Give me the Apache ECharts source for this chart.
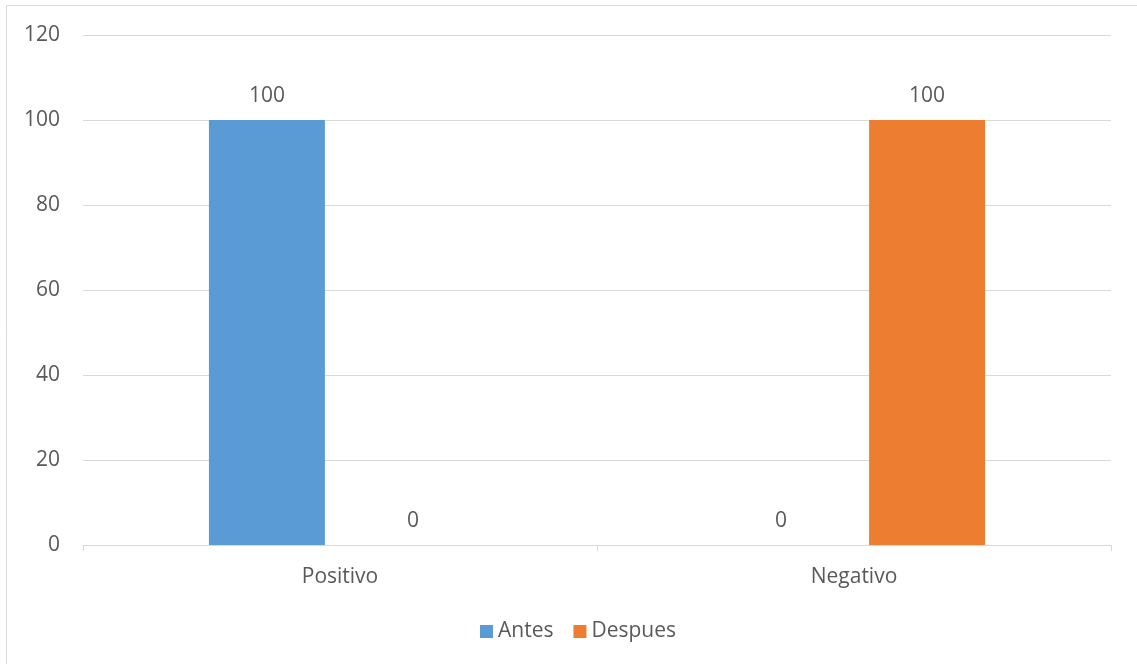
<!DOCTYPE html>
<html>
<head>
<meta charset="utf-8">
<script src="https://cdn.jsdelivr.net/npm/echarts@6/dist/echarts.min.js"></script>
<style>
  html, body { margin: 0; padding: 0; background: #fff; }
  #chart { width: 1137px; height: 664px; }
</style>
</head>
<body>
<div id="chart"></div>
<script>
// Categories and series values
const categories = ['Positivo', 'Negativo'];
const antes = [100, 0];
const despues = [0, 100];
const seriesNames = ['Antes', 'Despues'];

const textColor = '#595959';
const fontFamily = '"Open Sans", Lato, sans-serif';
const fontSize = 21;

const chart = echarts.init(document.getElementById('chart'));

const labelStyle = {
  show: true,
  position: 'top',
  distance: 13,
  color: textColor,
  fontSize: fontSize,
  fontFamily: fontFamily
};

chart.setOption({
  animation: false,
  backgroundColor: '#ffffff',
  graphic: [{
    type: 'rect',
    shape: { x: 6.5, y: 5.5, width: 1300, height: 900 },
    style: { fill: 'none', stroke: '#d9d9d9', lineWidth: 1 },
    silent: true
  }],
  grid: { left: 83, right: 26, top: 35, bottom: 119, containLabel: false },
  legend: {
    data: seriesNames,
    bottom: 17,
    left: 475,
    itemWidth: 13,
    itemHeight: 13,
    itemGap: 20,
    icon: 'rect',
    textStyle: { color: textColor, fontSize: fontSize, fontFamily: fontFamily }
  },
  xAxis: {
    type: 'category',
    data: categories,
    axisLine: { show: true, lineStyle: { color: '#d9d9d9', width: 1 } },
    axisTick: { show: true, length: 6, lineStyle: { color: '#d9d9d9' } },
    axisLabel: { color: textColor, fontSize: fontSize, fontFamily: fontFamily, margin: 22 }
  },
  yAxis: {
    type: 'value',
    min: 0,
    max: 120,
    interval: 20,
    axisLine: { show: false },
    axisTick: { show: false },
    axisLabel: { color: textColor, fontSize: fontSize, fontFamily: fontFamily, margin: 23 },
    splitLine: { lineStyle: { color: '#d9d9d9', width: 1 } }
  },
  series: [
    {
      name: seriesNames[0],
      type: 'bar',
      data: antes,
      barWidth: 116,
      barGap: '26%',
      itemStyle: { color: '#5B9BD5' },
      label: labelStyle
    },
    {
      name: seriesNames[1],
      type: 'bar',
      data: despues,
      barWidth: 116,
      barGap: '26%',
      itemStyle: { color: '#ED7D31' },
      label: labelStyle
    }
  ]
});
</script>
</body>
</html>
